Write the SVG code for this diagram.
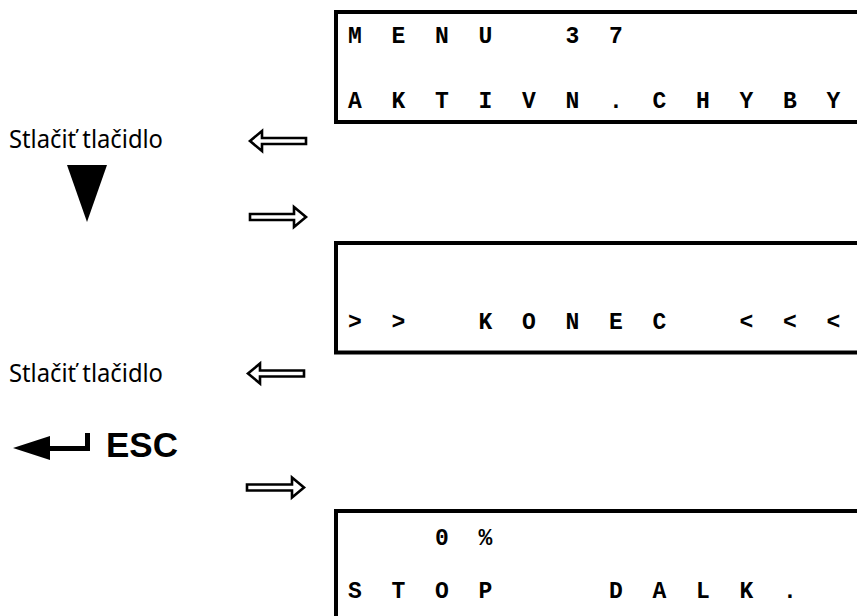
<svg xmlns="http://www.w3.org/2000/svg" width="857" height="616" viewBox="0 0 857 616">
<style>
.box{fill:#fff;stroke:#000;stroke-width:4}
.lcd{font-family:"Courier New","Nimbus Mono PS","FreeMono","Liberation Mono",monospace;font-weight:bold;font-size:23px;letter-spacing:7.95px;white-space:pre;fill:#000}
.lbl{font-family:"Noto Sans","Open Sans",sans-serif;font-size:25px;fill:#000}
.esc{font-family:"Liberation Sans",Arial,sans-serif;font-weight:bold;font-size:35px;fill:#000}
.harrow{fill:#fff;stroke:#000;stroke-width:2.6;stroke-linejoin:miter}
</style>
<rect width="857" height="616" fill="#fff"/>
<g id="display1">
<rect class="box" x="336" y="12" width="600" height="110"/>
<text class="lcd" x="348" y="43" xml:space="preserve">M E N U   3 7</text>
<text class="lcd" x="348" y="108" xml:space="preserve">A K T I V N . C H Y B Y</text>
</g>
<g id="display2">
<rect class="box" x="336" y="243" width="600" height="109.5"/>
<text class="lcd" x="348" y="329" xml:space="preserve">&gt; &gt;   K O N E C   &lt; &lt; &lt;</text>
</g>
<g id="display3">
<rect class="box" x="336" y="511" width="600" height="200"/>
<text class="lcd" x="348" y="545" xml:space="preserve">    0 %</text>
<text class="lcd" x="348" y="598" xml:space="preserve">S T O P     D A L K .</text>
</g>
<g id="step1">
<text class="lbl" x="9" y="148" textLength="154" lengthAdjust="spacingAndGlyphs">Stlačiť tlačidlo</text>
<polygon points="67,165 107,165 87,222" fill="#000"/>
</g>
<g id="step2">
<text class="lbl" x="9" y="382" textLength="154" lengthAdjust="spacingAndGlyphs">Stlačiť tlačidlo</text>
<path d="M13,448 L50,436 L50,446 L85,446 L85,433 L90,433 L90,451 L50,451 L50,460 Z" fill="#000"/>
<text class="esc" x="106" y="457">ESC</text>
</g>
<g id="connectors">
<path class="harrow" d="M250,141 L262,131 L262,138 L306,138 L306,144 L262,144 L262,151 Z"/>
<path class="harrow" d="M306,217 L294,207 L294,214 L250,214 L250,220 L294,220 L294,227 Z"/>
<path class="harrow" d="M248,373.5 L260,363.5 L260,370.5 L304,370.5 L304,376.5 L260,376.5 L260,383.5 Z"/>
<path class="harrow" d="M304,487.5 L292,477.5 L292,484.5 L247,484.5 L247,490.5 L292,490.5 L292,497.5 Z"/>
</g>
</svg>
